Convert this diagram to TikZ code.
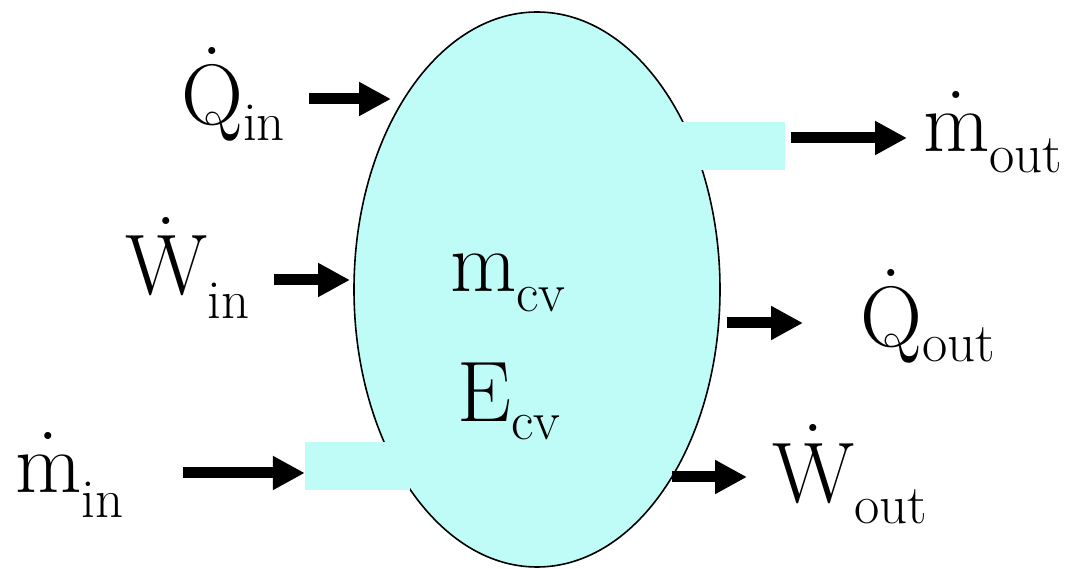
\documentclass[tikz,border=0pt]{standalone}
\usetikzlibrary{arrows.meta, shapes.geometric}
\definecolor{cvCyan}{HTML}{BFFCF8}
% dot over a letter, raised by #1
\newcommand\rdot[2]{\ooalign{#2\cr\hidewidth\raisebox{#1}{.}\hidewidth\cr}}
% subscript text lowered by #1
\newcommand\lowsub[2]{\raisebox{-#1}{\fontsize{55}{58}\selectfont #2}}

\begin{document}
\begin{tikzpicture}[x=1pt, y=-1pt,
  flow/.style={line width=11pt, -{Triangle[length=32pt, width=32pt]}},
  lbl/.style={anchor=base west, inner sep=0pt, font=\fontsize{86}{90}\selectfont},
  port/.style={fill=cvCyan, inner sep=0pt, minimum width=105pt, minimum height=48pt},
]
  \useasboundingbox (0,0) rectangle (1072,569);

  % CONTROL VOLUME
  \node[ellipse, draw, line width=1.6pt, fill=cvCyan, inner sep=0pt,
        minimum width=366pt, minimum height=555pt] (cv) at (537,289.5) {};
  \node[port] (inlet) at (357.5,466) {};
  \node[port] (outlet) at (732.5,146) {};
  \node[lbl] (mcv) at (450,292) {m\lowsub{20pt}{cv}};
  \node[lbl] (Ecv) at (457,422) {E\lowsub{18pt}{cv}};

  % INFLOWS
  \node[lbl] (Qin) at (181,125) {\rdot{0.82em}{Q}\lowsub{16pt}{in}};
  \node[lbl] (Win) at (125,295) {\rdot{0.82em}{W}\lowsub{24pt}{in}};
  \node[lbl] (min) at (15,493) {\rdot{0.62em}{m}\lowsub{25pt}{in}};
  \coordinate (qin-a) at (309,99);  \coordinate (qin-b) at (391,99);
  \coordinate (win-a) at (274,280); \coordinate (win-b) at (350,280);
  \coordinate (min-a) at (183,473); \coordinate (min-b) at (inlet.west |- min-a);
  \draw[flow] (qin-a) -- (qin-b);
  \draw[flow] (win-a) -- (win-b);
  \draw[flow] (min-a) -- (min-b);

  % OUTFLOWS
  \node[lbl] (mout) at (923,152) {\rdot{0.62em}{m}\lowsub{21pt}{out}};
  \node[lbl] (Qout) at (860,347) {\rdot{0.82em}{Q}\lowsub{15pt}{out}};
  \node[lbl] (Wout) at (772,502) {\rdot{0.82em}{W}\lowsub{21pt}{out}};
  \coordinate (mout-a) at (791,138); \coordinate (mout-b) at (907,138);
  \coordinate (qout-a) at (727,323); \coordinate (qout-b) at (803,323);
  \coordinate (wout-a) at (672,477); \coordinate (wout-b) at (747,477);
  \draw[flow] (mout-a) -- (mout-b);
  \draw[flow] (qout-a) -- (qout-b);
  \draw[flow] (wout-a) -- (wout-b);
\end{tikzpicture}
\end{document}
